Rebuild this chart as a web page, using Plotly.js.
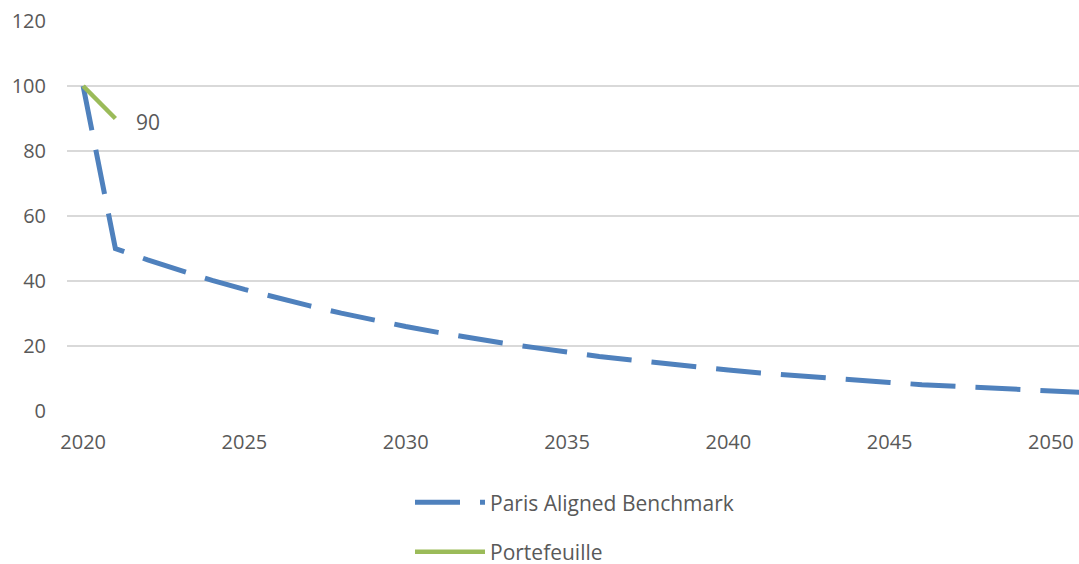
<!DOCTYPE html>
<html>
<head>
<meta charset="utf-8">
<script src="https://cdn.plot.ly/plotly-3.0.1.min.js"></script>
<style>html,body{margin:0;padding:0;background:#fff;}#chart{width:1079px;height:564px;}</style>
</head>
<body>
<div id="chart"></div>
<script>
const benchYears = [2020, 2021, 2022, 2023, 2024, 2025, 2026, 2027, 2028, 2029, 2030,
  2031, 2032, 2033, 2034, 2035, 2036, 2037, 2038, 2039, 2040,
  2041, 2042, 2043, 2044, 2045, 2046, 2047, 2048, 2049, 2050, 2051];
const benchValues = [100, 50, 46.5, 43.2, 40.2, 37.4, 34.8, 32.4, 30.1, 28.0, 26.0,
  24.2, 22.5, 20.9, 19.5, 18.1, 16.8, 15.7, 14.6, 13.5, 12.6,
  11.7, 10.9, 10.1, 9.4, 8.8, 8.1, 7.6, 7.1, 6.6, 6.1, 5.7];
const portYears = [2020, 2021];
const portValues = [100, 90];
const xTicks = [2020, 2025, 2030, 2035, 2040, 2045, 2050];
const yTicks = [0, 20, 40, 60, 80, 100, 120];

const font = '"Open Sans", "Noto Sans", sans-serif';
const textColor = '#595959';

const traces = [
  {
    x: benchYears, y: benchValues, type: 'scatter', mode: 'lines',
    name: 'Paris Aligned Benchmark', legendgroup: 'a',
    line: {color: '#4F81BD', width: 5, dash: '45px,20px'}
  },
  {
    x: portYears, y: portValues, type: 'scatter', mode: 'lines',
    name: 'Portefeuille', legendgroup: 'b',
    line: {color: '#9BBB59', width: 4.5}
  }
];

const layout = {
  width: 1079, height: 564,
  margin: {l: 67, r: 0, t: 21, b: 153},
  paper_bgcolor: '#fff', plot_bgcolor: '#fff',
  font: {family: font, size: 20, color: textColor},
  showlegend: true,
  legend: {
    x: (410 - 67) / 1012, xref: 'paper', xanchor: 'left',
    y: 0.145, yref: 'container', yanchor: 'top',
    itemwidth: 70,
    tracegroupgap: 19, font: {family: font, size: 21, color: textColor},
    bgcolor: 'rgba(0,0,0,0)'
  },
  xaxis: {
    range: [2019.5, 2050.87], tickvals: xTicks, ticktext: xTicks.map(String),
    showgrid: false, zeroline: false, showline: false, ticks: '', ticklabelstandoff: 17,
    tickfont: {family: font, size: 20, color: textColor}, fixedrange: true
  },
  yaxis: {
    range: [0, 120], tickvals: yTicks, showgrid: true, gridcolor: '#D9D9D9', gridwidth: 1.3,
    zeroline: false, showline: false, ticks: '', ticklabelstandoff: 20,
    tickfont: {family: font, size: 20, color: textColor}, fixedrange: true
  },
  annotations: [{
    x: portYears[1], y: portValues[1], xref: 'x', yref: 'y',
    text: String(portValues[1]), showarrow: false, xanchor: 'left', yanchor: 'middle',
    xshift: 19, yshift: -3, font: {family: font, size: 21, color: textColor}
  }]
};

Plotly.newPlot('chart', traces, layout, {displayModeBar: false, staticPlot: true});
</script>
</body>
</html>
